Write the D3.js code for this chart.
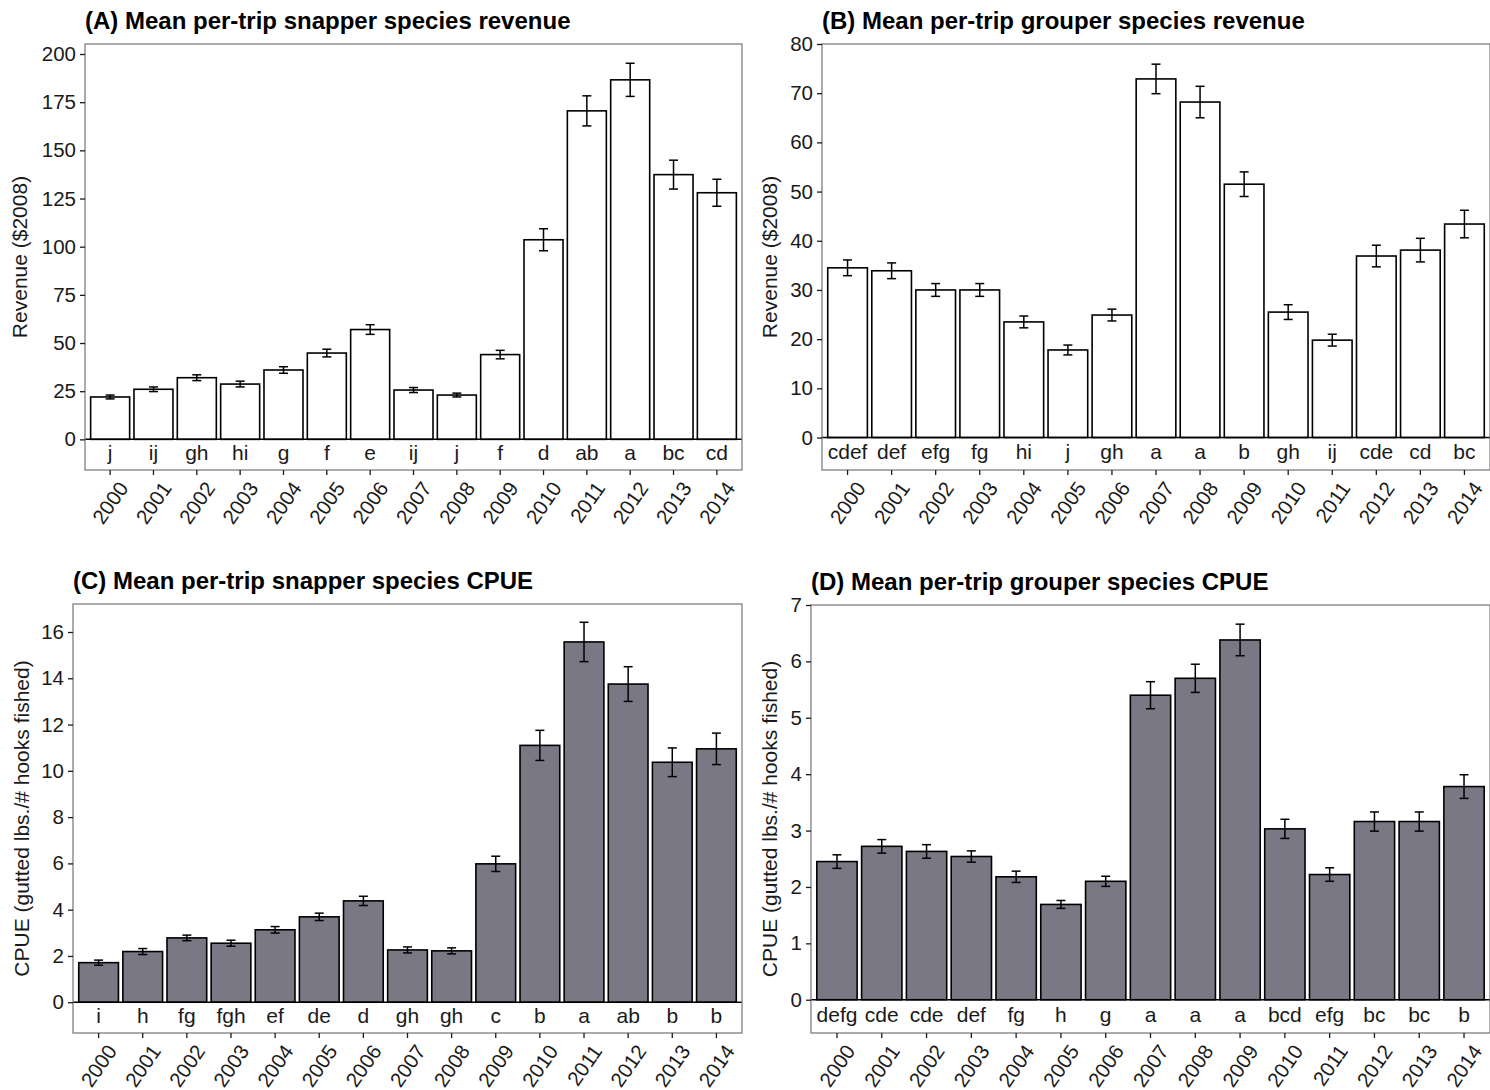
<!DOCTYPE html>
<html>
<head>
<meta charset="utf-8">
<script src="https://cdn.jsdelivr.net/npm/d3@7"></script>
<style>
  body { margin: 0; background: #fff; }
  svg text { font-family: "Liberation Sans", Arial, sans-serif; }
</style>
</head>
<body>
<div id="chart"></div>
<script>
var years = ['2000','2001','2002','2003','2004','2005','2006','2007','2008','2009','2010','2011','2012','2013','2014'];

// (A) snapper revenue
var snapRev    = [22, 26, 32, 28.7, 36, 44.8, 57, 25.6, 23, 44, 103.6, 170.5, 186.6, 137.4, 128];
var snapRevSE  = [1, 1.2, 1.5, 1.5, 1.7, 2, 2.5, 1.3, 1, 2.2, 5.7, 7.8, 8.6, 7.5, 7];
var snapRevLet = ['j','ij','gh','hi','g','f','e','ij','j','f','d','ab','a','bc','cd'];

// (B) grouper revenue
var grpRev    = [34.5, 33.9, 30, 30, 23.5, 17.8, 24.9, 72.9, 68.2, 51.5, 25.5, 19.8, 36.9, 38.1, 43.4];
var grpRevSE  = [1.6, 1.6, 1.3, 1.3, 1.2, 1, 1.2, 3, 3.2, 2.5, 1.5, 1.2, 2.2, 2.4, 2.8];
var grpRevLet = ['cdef','def','efg','fg','hi','j','gh','a','a','b','gh','ij','cde','cd','bc'];

// (C) snapper CPUE
var snapCpue    = [1.71, 2.19, 2.78, 2.55, 3.13, 3.69, 4.38, 2.26, 2.22, 5.98, 11.1, 15.57, 13.75, 10.37, 10.95];
var snapCpueSE  = [0.11, 0.13, 0.12, 0.13, 0.14, 0.16, 0.2, 0.13, 0.13, 0.33, 0.65, 0.85, 0.75, 0.62, 0.68];
var snapCpueLet = ['i','h','fg','fgh','ef','de','d','gh','gh','c','b','a','ab','b','b'];

// (D) grouper CPUE
var grpCpue    = [2.45, 2.72, 2.63, 2.54, 2.18, 1.69, 2.1, 5.4, 5.7, 6.38, 3.03, 2.22, 3.16, 3.16, 3.78];
var grpCpueSE  = [0.12, 0.12, 0.12, 0.1, 0.1, 0.07, 0.09, 0.24, 0.25, 0.28, 0.17, 0.12, 0.17, 0.17, 0.21];
var grpCpueLet = ['defg','cde','cde','def','fg','h','g','a','a','a','bcd','efg','bc','bc','b'];

var revTicks  = [0, 25, 50, 75, 100, 125, 150, 175, 200];
var grpTicks  = [0, 10, 20, 30, 40, 50, 60, 70, 80];
var cpueTicks = [0, 2, 4, 6, 8, 10, 12, 14, 16];
var gcpTicks  = [0, 1, 2, 3, 4, 5, 6, 7];

var svg = d3.select("#chart")
  .append("svg")
    .attr("width", 1490)
    .attr("height", 1090);

var panels = [
  {title: "(A) Mean per-trip snapper species revenue", ylab: "Revenue ($2008)",
   vals: snapRev, se: snapRevSE, lets: snapRevLet, ticks: revTicks, dom: [-15.9, 205.2],
   box: {l: 85, t: 44, r: 742, b: 470}, fill: "#ffffff", labX: 20},
  {title: "(B) Mean per-trip grouper species revenue", ylab: "Revenue ($2008)",
   vals: grpRev, se: grpRevSE, lets: grpRevLet, ticks: grpTicks, dom: [-6.6, 80],
   box: {l: 822, t: 44, r: 1490, b: 470}, fill: "#ffffff", labX: 770},
  {title: "(C) Mean per-trip snapper species CPUE", ylab: "CPUE (gutted lbs./# hooks fished)",
   vals: snapCpue, se: snapCpueSE, lets: snapCpueLet, ticks: cpueTicks, dom: [-1.33, 17.21],
   box: {l: 73, t: 604, r: 742, b: 1033}, fill: "#7b7885", labX: 22},
  {title: "(D) Mean per-trip grouper species CPUE", ylab: "CPUE (gutted lbs./# hooks fished)",
   vals: grpCpue, se: grpCpueSE, lets: grpCpueLet, ticks: gcpTicks, dom: [-0.59, 7],
   box: {l: 811, t: 605, r: 1490, b: 1033}, fill: "#7b7885", labX: 770}
];

panels.forEach(function(p) {
  var b = p.box;
  var g = svg.append("g");

  var x = d3.scaleBand()
    .domain(years)
    .range([b.l, b.r])
    .paddingInner(0.1)
    .paddingOuter(0.13);

  var y = d3.scaleLinear()
    .domain(p.dom)
    .range([b.b, b.t]);

  // bars
  g.selectAll("rect.bar")
    .data(p.vals)
    .enter()
    .append("rect")
      .attr("class", "bar")
      .attr("x", function(d, i) { return x(years[i]); })
      .attr("width", x.bandwidth())
      .attr("y", function(d) { return y(d); })
      .attr("height", function(d) { return y(0) - y(d); })
      .style("fill", p.fill)
      .style("stroke", "#000")
      .style("stroke-width", 1.6);

  // error bars
  var cap = 4.5;
  var eb = g.selectAll("g.err")
    .data(p.vals)
    .enter()
    .append("g")
      .attr("class", "err")
      .style("stroke", "#000")
      .style("stroke-width", 1.5);
  eb.append("line")
    .attr("x1", function(d, i) { return x(years[i]) + x.bandwidth() / 2; })
    .attr("x2", function(d, i) { return x(years[i]) + x.bandwidth() / 2; })
    .attr("y1", function(d, i) { return y(d - p.se[i]); })
    .attr("y2", function(d, i) { return y(d + p.se[i]); });
  eb.append("line")
    .attr("x1", function(d, i) { return x(years[i]) + x.bandwidth() / 2 - cap; })
    .attr("x2", function(d, i) { return x(years[i]) + x.bandwidth() / 2 + cap; })
    .attr("y1", function(d, i) { return y(d + p.se[i]); })
    .attr("y2", function(d, i) { return y(d + p.se[i]); });
  eb.append("line")
    .attr("x1", function(d, i) { return x(years[i]) + x.bandwidth() / 2 - cap; })
    .attr("x2", function(d, i) { return x(years[i]) + x.bandwidth() / 2 + cap; })
    .attr("y1", function(d, i) { return y(d - p.se[i]); })
    .attr("y2", function(d, i) { return y(d - p.se[i]); });

  // zero line
  g.append("line")
    .attr("x1", b.l).attr("x2", b.r)
    .attr("y1", y(0)).attr("y2", y(0))
    .style("stroke", "#000")
    .style("stroke-width", 1.5);

  // significance letters
  g.selectAll("text.let")
    .data(p.lets)
    .enter()
    .append("text")
      .attr("class", "let")
      .attr("x", function(d, i) { return x(years[i]) + x.bandwidth() / 2; })
      .attr("y", (y(0) + b.b) / 2 - 2)
      .attr("dy", "0.35em")
      .style("text-anchor", "middle")
      .style("font-size", "21px")
      .style("fill", "#1a1a1a")
      .text(function(d) { return d; });

  // panel frame
  g.append("rect")
    .attr("x", b.l).attr("y", b.t)
    .attr("width", b.r - b.l).attr("height", b.b - b.t)
    .style("fill", "none")
    .style("stroke", "#7f7f7f")
    .style("stroke-width", 1.3);

  // y axis
  var ya = g.append("g")
    .attr("transform", "translate(" + b.l + ",0)")
    .call(d3.axisLeft(y).tickValues(p.ticks).tickSize(5).tickPadding(4));
  ya.select(".domain").remove();
  ya.selectAll("line").style("stroke", "#1a1a1a").style("stroke-width", 1.3);
  ya.selectAll("text").style("font-size", "20.5px").style("fill", "#1a1a1a")
    .style("font-family", "'Liberation Sans', Arial, sans-serif");

  // x axis
  var xa = g.append("g")
    .attr("transform", "translate(0," + b.b + ")")
    .call(d3.axisBottom(x).tickSize(5).tickSizeOuter(0));
  xa.select(".domain").remove();
  xa.selectAll("line").style("stroke", "#1a1a1a").style("stroke-width", 1.3);
  xa.selectAll("text")
    .attr("y", 0).attr("dy", "0.78em")
    .attr("transform", "translate(6,9) rotate(-55)")
    .style("text-anchor", "end")
    .style("font-size", "20.5px")
    .style("fill", "#1a1a1a")
    .style("font-family", "'Liberation Sans', Arial, sans-serif");

  // axis title
  g.append("text")
    .attr("transform", "translate(" + p.labX + "," + ((b.t + b.b) / 2) + ") rotate(-90)")
    .attr("dy", "0.35em")
    .style("text-anchor", "middle")
    .style("font-size", "21px")
    .style("fill", "#1a1a1a")
    .text(p.ylab);

  // panel title
  g.append("text")
    .attr("x", b.l)
    .attr("y", b.t - 15)
    .style("font-size", "24px")
    .style("font-weight", "bold")
    .style("fill", "#000")
    .text(p.title);
});
</script>
</body>
</html>
